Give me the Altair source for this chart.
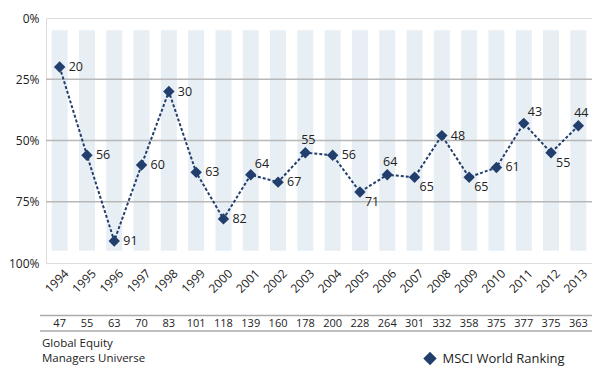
import altair as alt
import pandas as pd

years = [str(y) for y in range(1994, 2014)]
ranking = [20, 56, 91, 60, 30, 63, 82, 64, 67, 55, 56, 71, 64, 65, 48, 65, 61, 43, 55, 44]
universe = [47, 55, 63, 70, 83, 101, 118, 139, 160, 178, 200, 228, 264, 301, 332, 358, 375, 377, 375, 363]
# label placement relative to the marker: r=right, ur=up-right, u=above, dr=down-right
label_place = ["r", "r", "r", "r", "r", "r", "r", "ur", "r", "u", "r", "dr", "u", "dr", "r", "dr", "r", "ur", "dr", "u"]
y_ticks = [0, 25, 50, 75, 100]
grid_vals = [25, 50, 75]
universe_title = ["Global Equity", "Managers Universe"]
legend_label = "MSCI World Ranking"

df = pd.DataFrame({"year": years, "rank": ranking, "univ": universe, "place": label_place})
grid_df = pd.DataFrame({"g": grid_vals})

NAVY = "#213e6d"
FONT = "Open Sans"
W, H = 546, 245

x = alt.X("year:N", scale=alt.Scale(paddingInner=0, paddingOuter=0),
          axis=alt.Axis(title=None, labelAngle=-45, labelAlign="right", labelBaseline="middle",
                        ticks=False, domain=False, labelPadding=8, labelOffset=7,
                        labelFontSize=12, labelColor="#222", labelFont=FONT))
yscale = alt.Scale(domain=[0, 100], reverse=True, nice=False)

base = alt.Chart(df)

bars = base.mark_bar(size=16, color="#e7eef4").encode(
    x=x,
    y=alt.Y(datum=5, type="quantitative", scale=yscale,
            axis=alt.Axis(title=None, values=y_ticks, labelExpr="datum.value + '%'",
                          grid=False, ticks=False, domain=False, labelPadding=7,
                          labelFontSize=12, labelColor="#222", labelFont=FONT)),
    y2=alt.Y2(datum=95),
)

grid = alt.Chart(grid_df).mark_rule(color="#b8b8b8", strokeWidth=1.5).encode(
    y=alt.Y("g:Q", scale=yscale)
)

line = base.mark_line(color=NAVY, strokeWidth=2, strokeDash=[3, 2]).encode(
    x="year:N", y=alt.Y("rank:Q", scale=yscale)
)

pts = base.mark_point(shape="diamond", filled=True, size=130, color=NAVY, opacity=1).encode(
    x="year:N", y=alt.Y("rank:Q", scale=yscale)
)

def lbl(place, dx, dy, align):
    return base.transform_filter(alt.datum.place == place).mark_text(
        dx=dx, dy=dy, align=align, baseline="middle", fontSize=12.5, font=FONT, color="#222"
    ).encode(x="year:N", y=alt.Y("rank:Q", scale=yscale), text="rank:Q")

labels = [lbl("r", 9, 0, "left"), lbl("ur", 4, -11, "left"), lbl("u", 3, -13, "center"),
          lbl("dr", 5, 10, "left")]

# table under the chart
rule_df = pd.DataFrame({"k": [0]})
table_lines = [
    alt.Chart(rule_df).mark_rule(color="#aaaaaa", strokeWidth=1.5).encode(
        x=alt.value(-6), x2=alt.value(W), y=alt.value(yv))
    for yv in (297.5, 313)
]
table_text = base.mark_text(fontSize=11, font=FONT, color="#222", baseline="middle").encode(
    x="year:N", y=alt.value(305.5), text="univ:Q"
)
uni_title = alt.Chart(pd.DataFrame({"t": ["\n".join(universe_title)]})).mark_text(
    align="left", baseline="top", fontSize=11.5, font=FONT, color="#222",
    lineBreak="\n", lineHeight=15,
).encode(x=alt.value(-4), y=alt.value(319.5), text="t:N")

leg_df = pd.DataFrame({"t": [legend_label]})
leg_pt = alt.Chart(leg_df).mark_point(shape="diamond", filled=True, size=180, color=NAVY, opacity=1).encode(
    x=alt.value(384), y=alt.value(340.5))
leg_tx = alt.Chart(leg_df).mark_text(align="left", baseline="middle", fontSize=13, font=FONT,
                                     color="#222").encode(x=alt.value(396.5), y=alt.value(340.5), text="t:N")

chart = alt.layer(bars, grid, line, pts, *labels, *table_lines, table_text, uni_title, leg_pt, leg_tx).properties(
    width=W, height=H,
    autosize=alt.AutoSizeParams(type="none"),
    padding={"left": 38, "top": 10, "right": 0, "bottom": 106},
).configure_view(stroke="#8a8a8a", strokeWidth=1.5).configure(background="white")

chart.save("out.html", embed_options={"renderer": "svg", "actions": False})
